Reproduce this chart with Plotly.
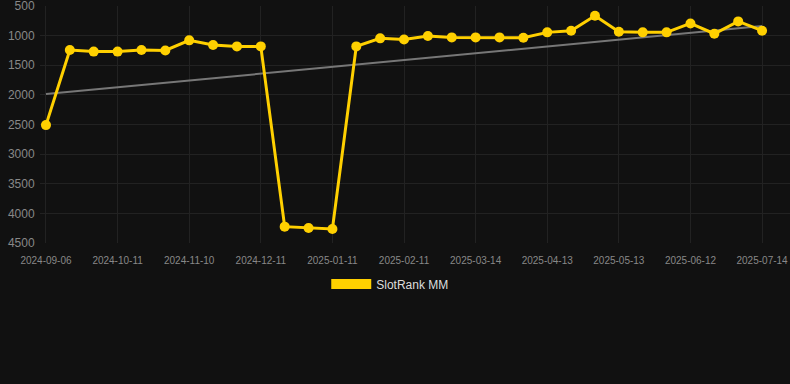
import plotly.graph_objects as go

dates = ["2024-09-06", "2024-09-18", "2024-09-30", "2024-10-11", "2024-10-21", "2024-10-31",
         "2024-11-10", "2024-11-20", "2024-11-30", "2024-12-11", "2024-12-21", "2024-12-31",
         "2025-01-11", "2025-01-21", "2025-01-31", "2025-02-11", "2025-02-21", "2025-03-03",
         "2025-03-14", "2025-03-24", "2025-04-03", "2025-04-13", "2025-04-23", "2025-05-03",
         "2025-05-13", "2025-05-23", "2025-06-02", "2025-06-12", "2025-06-22", "2025-07-02",
         "2025-07-14"]
rank = [2510, 1244, 1270, 1270, 1244, 1250, 1080, 1159, 1182, 1182, 4224, 4246, 4263,
        1182, 1046, 1064, 1007, 1030, 1030, 1030, 1035, 945, 917, 664, 935, 945, 945,
        794, 968, 760, 917]
trend_dates = [dates[0], dates[-1]]
trend_vals = [1987, 838]
tick_labels = dates[::3]
y_ticks = [500, 1000, 1500, 2000, 2500, 3000, 3500, 4000, 4500]

gold = "#FFD000"
fig = go.Figure()
fig.add_trace(go.Scatter(x=trend_dates, y=trend_vals, mode="lines",
                         line=dict(color="#777777", width=2), showlegend=False, hoverinfo="skip"))
fig.add_trace(go.Scatter(x=dates, y=rank, mode="lines+markers", name="SlotRank MM",
                         line=dict(color=gold, width=3), marker=dict(color=gold, size=10),
                         showlegend=False))
fig.add_trace(go.Scatter(x=[None], y=[None], mode="lines", name="SlotRank MM",
                         line=dict(color=gold, width=11), showlegend=True))

fig.update_layout(
    width=790, height=384,
    paper_bgcolor="#111111", plot_bgcolor="#111111",
    margin=dict(l=40, r=0, t=6, b=141, autoexpand=False),
    font=dict(family="Liberation Sans, Arial, sans-serif", color="#888888"),
    showlegend=True,
    legend=dict(orientation="h", x=0.467, xanchor="center",
                y=-0.112, yanchor="top", itemwidth=40,
                font=dict(color="#dddddd", size=12), bgcolor="rgba(0,0,0,0)"),
    xaxis=dict(type="category", categoryorder="array", categoryarray=dates,
               range=[-0.25, 31.17], tickvals=tick_labels, ticktext=tick_labels,
               tickfont=dict(size=10, color="#888888"), showgrid=True, tickangle=0,
               gridcolor="#222222", zeroline=False, showline=False, ticks="outside",
               ticklen=8, tickcolor="rgba(0,0,0,0)"),
    yaxis=dict(range=[4500, 500], tickvals=y_ticks, ticklabeloverflow="allow",
               tickfont=dict(size=12, color="#888888"), showgrid=True, gridcolor="#222222",
               zeroline=False, showline=False, ticks="outside", ticklen=2,
               tickcolor="rgba(0,0,0,0)"),
)
fig.write_html("out.html", config={"displayModeBar": False},
               post_script="document.body.style.margin='0';")
